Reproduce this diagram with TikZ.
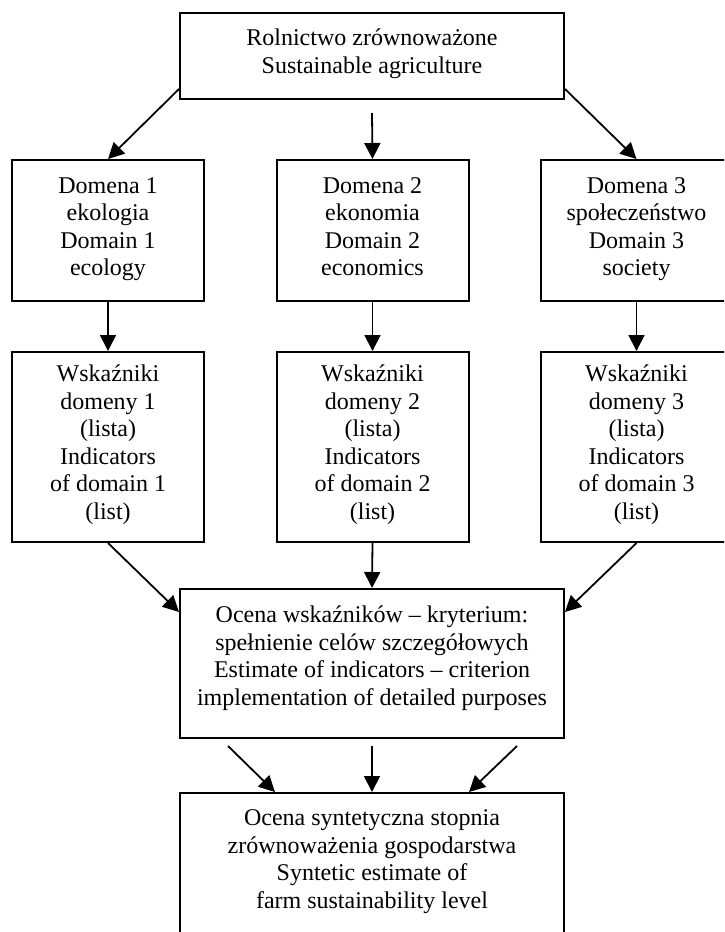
\documentclass[tikz,border=0pt]{standalone}
\usepackage{fontspec}
\setmainfont{Liberation Serif}
\usetikzlibrary{arrows.meta,calc}
\newcommand{\boxtext}[2]{\raisebox{#1pt}[0pt][0pt]{\begin{tabular}[t]{@{}c@{}}#2\end{tabular}}}
\begin{document}
\begin{tikzpicture}[x=1pt,y=-1pt,
  font=\fontsize{24}{27.5}\selectfont,
  box/.style={draw, line width=2pt, inner sep=0pt, rectangle},
  widebox/.style={box, minimum width=384pt},
  colbox/.style={box, minimum width=192pt},
  arr/.style={-{Triangle[length=16pt,width=16pt]}, line width=1.8pt}]
\useasboundingbox (0,0) rectangle (724,932);
\clip (0,0) rectangle (724,932);

\node[widebox, minimum height=86pt] (top) at (372,56)
  {\boxtext{10.5}{Rolnictwo zrównoważone\\Sustainable agriculture}};

\node[colbox, minimum height=141pt] (d1) at (108,230.5)
  {\boxtext{37.5}{Domena 1\\ekologia\\Domain 1\\ecology}};
\node[colbox, minimum height=141pt] (d2) at (372.5,230.5)
  {\boxtext{37.5}{Domena 2\\ekonomia\\Domain 2\\economics}};
\node[colbox, minimum height=141pt] (d3) at (636.5,230.5)
  {\boxtext{37.5}{Domena 3\\społeczeństwo\\Domain 3\\society}};

\node[colbox, minimum height=190pt] (i1) at (108,447)
  {\boxtext{65.5}{Wskaźniki\\domeny 1\\(lista)\\Indicators\\of domain 1\\(list)}};
\node[colbox, minimum height=190pt] (i2) at (372.5,447)
  {\boxtext{65.5}{Wskaźniki\\domeny 2\\(lista)\\Indicators\\of domain 2\\(list)}};
\node[colbox, minimum height=190pt] (i3) at (636.5,447)
  {\boxtext{65.5}{Wskaźniki\\domeny 3\\(lista)\\Indicators\\of domain 3\\(list)}};

\node[widebox, minimum height=149pt] (oc) at (372,663.5)
  {\boxtext{41}{Ocena wskaźników – kryterium:\\spełnienie celów szczegółowych\\Estimate of indicators – criterion\\implementation of detailed purposes}};

\node[widebox, minimum height=149pt] (fin) at (372,867.5)
  {\boxtext{41.7}{Ocena syntetyczna stopnia\\zrównoważenia gospodarstwa\\Syntetic estimate of\\farm sustainability level}};

\draw[arr] ($(top.south west)+(0,-11)$) -- (d1.north);
\draw[arr] ($(top.south)+(0,13)$) -- (d2.north);
\draw[arr] ($(top.south east)+(0,-11)$) -- (d3.north);

\draw[arr] (d1.south) -- (i1.north);
\draw[arr] (d2.south) -- (i2.north);
\draw[arr] (d3.south) -- (i3.north);

\draw[arr] (i1.south) -- ($(oc.north west)+(0,24)$);
\draw[arr] (i2.south) -- (oc.north);
\draw[arr] (i3.south) -- ($(oc.north east)+(0,24)$);

\draw[arr] ($(oc.south)+(-144,7)$) -- ($(fin.north)+(-97,0)$);
\draw[arr] ($(oc.south)+(0,7)$) -- (fin.north);
\draw[arr] ($(oc.south)+(145,7)$) -- ($(fin.north)+(97,0)$);
\end{tikzpicture}
\end{document}
